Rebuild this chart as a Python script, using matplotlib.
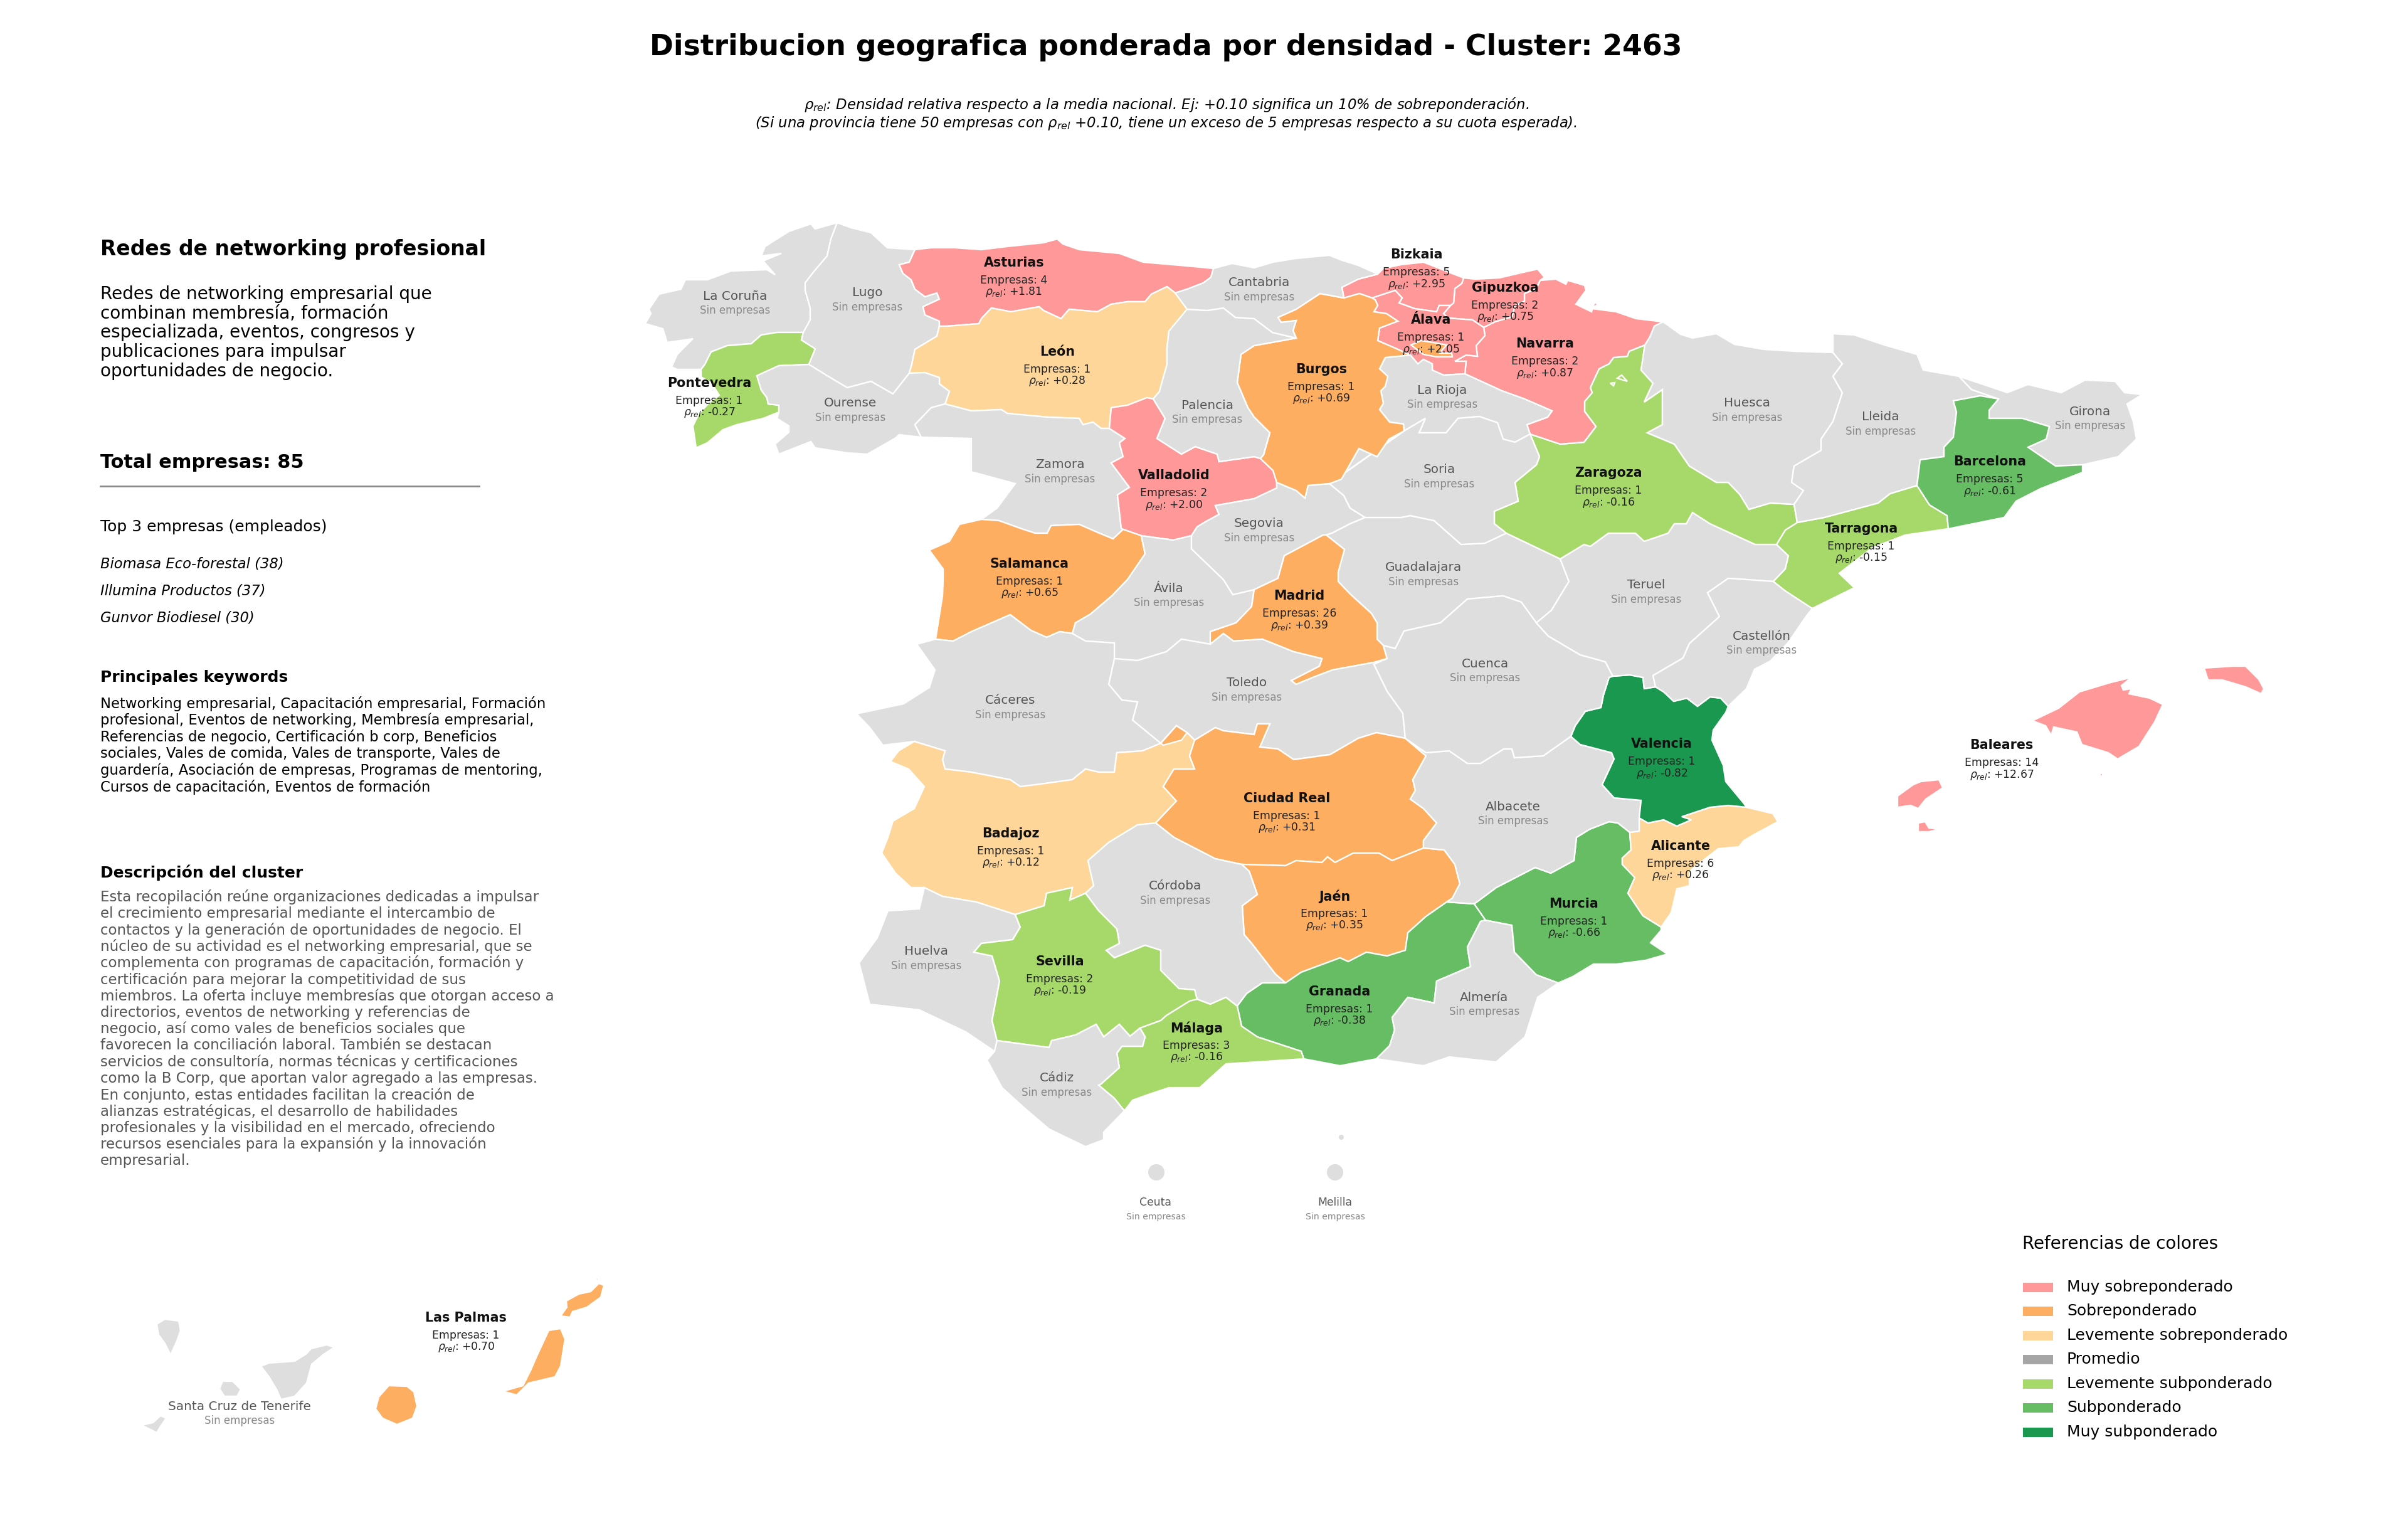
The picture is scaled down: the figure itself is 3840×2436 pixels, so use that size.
"""Mapa de provincias por densidad relativa, cluster 2463. Coordenadas en pixeles de la imagen."""
import matplotlib
matplotlib.use('Agg')
import matplotlib.pyplot as plt
from matplotlib.patches import Polygon, Circle, Rectangle

plt.rcParams['font.family'] = ['DejaVu Sans']

# ---- datos ----
ACTIVAS = ['Asturias', 'León', 'Pontevedra', 'Salamanca', 'Valladolid', 'Burgos', 'Madrid',
           'Zaragoza', 'Barcelona', 'Tarragona', 'Bizkaia', 'Gipuzkoa', 'Álava', 'Navarra',
           'Badajoz', 'Ciudad Real', 'Jaén', 'Sevilla', 'Málaga', 'Granada', 'Murcia',
           'Valencia', 'Alicante', 'Baleares', 'Las Palmas']
EMPRESAS = [4, 1, 1, 1, 2, 1, 26, 1, 5, 1, 5, 2, 1, 2, 1, 1, 1, 2, 3, 1, 1, 1, 6, 14, 1]
RHO = [1.81, 0.28, -0.27, 0.65, 2.00, 0.69, 0.39, -0.16, -0.61, -0.15, 2.95, 0.75, 2.05, 0.87,
       0.12, 0.31, 0.35, -0.19, -0.16, -0.38, -0.66, -0.82, 0.26, 12.67, 0.70]

LEYENDA = ['Muy sobreponderado', 'Sobreponderado', 'Levemente sobreponderado', 'Promedio',
           'Levemente subponderado', 'Subponderado', 'Muy subponderado']
COLORES = ['#ff9999', '#fdae61', '#fed69a', '#a6a6a6', '#a6d96a', '#66bd63', '#1a9850']
GRIS = '#dedede'

DESC_CORTA = ['Redes de networking empresarial que', 'combinan membresía, formación',
              'especializada, eventos, congresos y', 'publicaciones para impulsar',
              'oportunidades de negocio.']
TOP3 = ['Biomasa Eco-forestal (38)', 'Illumina Productos (37)', 'Gunvor Biodiesel (30)']
KEYWORDS = ['Networking empresarial, Capacitación empresarial, Formación',
            'profesional, Eventos de networking, Membresía empresarial,',
            'Referencias de negocio, Certificación b corp, Beneficios',
            'sociales, Vales de comida, Vales de transporte, Vales de',
            'guardería, Asociación de empresas, Programas de mentoring,',
            'Cursos de capacitación, Eventos de formación']
DESCRIPCION = ['Esta recopilación reúne organizaciones dedicadas a impulsar',
               'el crecimiento empresarial mediante el intercambio de',
               'contactos y la generación de oportunidades de negocio. El',
               'núcleo de su actividad es el networking empresarial, que se',
               'complementa con programas de capacitación, formación y',
               'certificación para mejorar la competitividad de sus',
               'miembros. La oferta incluye membresías que otorgan acceso a',
               'directorios, eventos de networking y referencias de',
               'negocio, así como vales de beneficios sociales que',
               'favorecen la conciliación laboral. También se destacan',
               'servicios de consultoría, normas técnicas y certificaciones',
               'como la B Corp, que aportan valor agregado a las empresas.',
               'En conjunto, estas entidades facilitan la creación de',
               'alianzas estratégicas, el desarrollo de habilidades',
               'profesionales y la visibilidad en el mercado, ofreciendo',
               'recursos esenciales para la expansión y la innovación',
               'empresarial.']

# posicion del nombre de cada provincia
LABEL_XY = {
    'Asturias': (1617, 419), 'León': (1686, 561), 'Pontevedra': (1131, 611), 'Salamanca': (1642, 899),
    'Valladolid': (1872, 758), 'La Coruña': (1172, 472), 'Lugo': (1383, 467), 'Ourense': (1356, 643),
    'Palencia': (1925, 646), 'Zamora': (1690, 741), 'Ávila': (1864, 938), 'Cantabria': (2008, 451),
    'Burgos': (2107, 589), 'La Rioja': (2300, 622), 'Soria': (2295, 749), 'Segovia': (2008, 835),
    'Guadalajara': (2270, 905), 'Madrid': (2072, 950), 'Zaragoza': (2565, 754), 'Huesca': (2786, 643),
    'Lleida': (2999, 665), 'Girona': (3333, 656), 'Barcelona': (3173, 736), 'Tarragona': (2968, 843),
    'Teruel': (2625, 933), 'Castellón': (2809, 1014), 'Cuenca': (2368, 1058), 'Bizkaia': (2259, 406),
    'Gipuzkoa': (2400, 459), 'Álava': (2282, 510), 'Navarra': (2464, 548), 'Toledo': (1988, 1089),
    'Cáceres': (1611, 1117), 'Badajoz': (1612, 1329), 'Ciudad Real': (2052, 1273), 'Córdoba': (1874, 1413),
    'Jaén': (2128, 1429), 'Albacete': (2413, 1286), 'Huelva': (1477, 1517), 'Sevilla': (1690, 1533),
    'Málaga': (1908, 1639), 'Cádiz': (1685, 1719), 'Granada': (2136, 1581), 'Almería': (2367, 1590),
    'Murcia': (2510, 1441), 'Valencia': (2650, 1186), 'Alicante': (2680, 1349), 'Baleares': (3192, 1188),
    'Las Palmas': (743, 2101), 'Santa Cruz de Tenerife': (382, 2242), 'Ceuta': (1843, 1917),
    'Melilla': (2129, 1917),
}

# ---- fronteras compartidas entre provincias ----
CORUNA_LUGO = [(1335,355),(1325,381),(1319,408),(1297,434),(1284,451),(1284,463),(1292,491),(1292,510),(1281,530)]
CORUNA_PONTE = [(1281,530),(1239,530),(1214,534),(1198,548),(1160,551),(1134,561),(1124,581),(1118,589)]
CORUNA_COAST = [(1118,589),(1080,589),(1071,585),(1080,565),(1105,540),(1064,546),(1057,524),(1029,516),(1038,500),
                (1035,493),(1051,469),(1086,461),(1093,446),(1128,446),(1166,432),(1223,430),(1236,438),(1217,416),
                (1246,404),(1214,408),(1220,393),(1258,369),(1293,357),(1300,365),(1335,355)]
PONTE_LUGO = [(1281,530),(1278,542),(1300,556),(1290,581)]
PONTE_OURENSE = [(1290,581),(1242,583),(1207,599),(1214,622),(1223,634),(1225,644),(1242,646),(1242,657)]
PONTE_COAST = [(1242,657),(1217,667),(1175,677),(1153,685),(1128,706),(1110,714),(1105,679),(1115,659),(1131,642),
               (1147,630),(1134,610),(1118,601),(1118,589)]
LUGO_OURENSE = [(1290,581),(1319,599),(1351,618),(1389,608),(1424,628),(1450,595)]
LUGO_LEON = [(1450,595),(1454,581),(1459,557),(1494,536),(1498,520)]
LUGO_ASTURIAS = [(1498,520),(1498,512),(1475,502),(1472,489),(1498,477),(1494,467),(1475,473),(1459,461),(1453,446),
                 (1440,436),(1434,422),(1450,418),(1459,398)]
LUGO_COAST = [(1459,398),(1415,395),(1389,371),(1357,363),(1335,355)]
ASTURIAS_COAST = [(1459,398),(1485,395),(1523,395),(1565,398),(1606,393),(1664,387),(1686,381),(1695,389),(1721,398),
                  (1785,404),(1823,418),(1893,424),(1935,428)]
ASTURIAS_CANTABRIA = [(1935,428),(1931,442),(1919,451),(1893,461),(1874,467)]
ASTURIAS_LEON = [(1874,467),(1861,457),(1836,469),(1826,481),(1798,481),(1772,485),(1750,497),(1705,493),(1692,508),
                 (1664,495),(1657,489),(1612,497),(1581,491),(1565,508),(1561,516),(1510,520),(1498,520)]
LEON_OURENSE = [(1450,595),(1475,594),(1498,602),(1498,612),(1514,624),(1507,644)]
LEON_ZAMORA = [(1507,644),(1549,655),(1597,653),(1606,659),(1670,665),(1721,667),(1727,677),(1743,673),(1756,683),(1769,683)]
LEON_VALLADOLID = [(1769,683),(1772,650),(1798,646),(1829,634),(1839,636)]
LEON_PALENCIA = [(1839,636),(1849,624),(1855,602),(1861,581),(1861,555),(1864,528),(1893,493)]
LEON_CANTABRIA = [(1893,493),(1874,467)]
OURENSE_ZAMORA = [(1507,644),(1485,650),(1459,677),(1469,697)]
OURENSE_EXT = [(1469,697),(1434,693),(1427,699),(1383,724),(1351,722),(1300,714),(1293,704),(1242,724),(1236,708),
               (1258,689),(1258,679),(1239,667),(1242,657)]
ZAMORA_EXT = [(1469,697),(1549,699),(1549,752),(1619,771),(1590,810),(1565,828)]
ZAMORA_SALAMANCA = [(1565,828),(1593,830),(1632,844),(1651,850),(1670,850),(1676,838),(1721,836),(1753,850),(1775,859),(1791,844)]
ZAMORA_VALLADOLID = [(1769,683),(1794,699),(1785,706),(1791,728),(1772,738),(1801,777),(1782,789),(1788,842),(1791,844)]
VALLADOLID_PALENCIA = [(1839,636),(1858,667),(1845,699),(1884,724),(1906,712),(1941,724),(1944,736),(2000,728),(2010,731)]
VALLADOLID_BURGOS = [(2010,731),(2030,750),(2036,769)]
VALLADOLID_SEGOVIA = [(2036,769),(2036,778),(2000,795),(1938,806),(1944,820),(1922,832),(1909,840),(1900,854)]
VALLADOLID_AVILA = [(1900,854),(1871,861),(1820,854)]
VALLADOLID_SALAMANCA = [(1820,854),(1791,844)]
SALAMANCA_AVILA = [(1820,854),(1826,883),(1798,924),(1773,950),(1739,979),(1715,993),(1710,1010)]
SALAMANCA_CACERES = [(1710,1010),(1690,1007),(1669,1016),(1644,1005),(1611,980),(1549,1007),(1520,1022),(1492,1019)]
SALAMANCA_EXT = [(1492,1019),(1503,950),(1504,924),(1504,907),(1482,877),(1514,863),(1530,836),(1565,828)]
SEGOVIA_AVILA = [(1900,854),(1900,875),(1925,899),(1951,924),(1966,948),(2000,940)]
MADRID_AVILA = [(1930,1027),(1930,1007),(1971,993),(1996,967),(2000,940)]
AVILA_TOLEDO = [(1930,1027),(1884,1019),(1860,1039),(1814,1053),(1777,1050)]
AVILA_CACERES = [(1777,1050),(1777,1025),(1731,1022),(1710,1010)]
BURGOS_SEGOVIA = [(2036,769),(2067,782),(2081,794),(2086,774),(2120,771)]
SEGOVIA_SORIA = [(2120,771),(2143,790),(2153,810),(2177,825)]
SEGOVIA_GUADALAJARA = [(2177,825),(2153,835),(2124,850),(2115,853)]
MADRID_SEGOVIA = [(2000,940),(2038,922),(2048,886),(2110,853),(2115,853)]
MADRID_GUADALAJARA = [(2115,853),(2144,876),(2134,912),(2134,927),(2153,947),(2187,978),(2196,993),(2196,1019),(2206,1029)]
MADRID_CUENCA = [(2206,1029),(2212,1050)]
MADRID_TOLEDO = [(2212,1050),(2191,1056),(2125,1068),(2096,1079),(2067,1091),(2059,1085),(2104,1062),(2108,1050),
                 (2063,1039),(2013,1019),(1967,1022),(1951,1010),(1930,1027)]
GUADALAJARA_SORIA = [(2177,825),(2234,825),(2249,822),(2287,830),(2330,868),(2368,866),(2402,850)]
GUADALAJARA_ZARAGOZA = [(2402,850),(2488,891)]
GUADALAJARA_TERUEL = [(2488,891),(2502,927),(2474,973),(2450,993)]
GUADALAJARA_CUENCA = [(2206,1029),(2225,1034),(2239,1006),(2297,993),(2340,955),(2397,950),(2426,960),(2450,993)]
TOLEDO_CUENCA = [(2212,1050),(2191,1059),(2212,1102),(2237,1137),(2241,1177)]
TOLEDO_CACERES = [(1777,1050),(1768,1091),(1789,1116),(1814,1119),(1806,1148),(1851,1185)]
TOLEDO_BADAJOZ = [(1851,1185),(1876,1157),(1893,1168),(1905,1180)]
CR_TOLEDO = [(1905,1180),(1938,1160),(1951,1165),(2000,1171),(2005,1154),(2025,1154),(2009,1191),(2038,1194),(2063,1211),
             (2121,1203),(2166,1177),(2195,1168),(2241,1177)]
CACERES_BADAJOZ = [(1851,1185),(1822,1197),(1781,1200),(1777,1231),(1752,1231),(1731,1226),(1710,1243),(1652,1251),
                   (1627,1254),(1611,1243),(1549,1231),(1507,1226),(1503,1211),(1507,1197),(1458,1182)]
CACERES_EXT = [(1458,1182),(1408,1188),(1387,1160),(1366,1138),(1441,1122),(1482,1096),(1491,1068),(1462,1027),(1492,1019)]
BADAJOZ_EXT = [(1458,1182),(1433,1197),(1420,1214),(1449,1226),(1474,1254),(1458,1289),(1424,1309),(1416,1335),(1406,1360),
               (1428,1392),(1453,1415),(1474,1415)]
BADAJOZ_HUELVA = [(1474,1415),(1503,1429),(1557,1438),(1619,1458)]
BADAJOZ_SEVILLA = [(1619,1458),(1665,1444),(1669,1424),(1710,1415),(1706,1435),(1731,1424)]
BADAJOZ_CORDOBA = [(1731,1424),(1744,1412),(1735,1372),(1768,1343),(1814,1315),(1843,1312)]
BADAJOZ_CR = [(1905,1180),(1897,1205),(1905,1226),(1872,1226),(1855,1254),(1876,1277),(1843,1312)]
CR_ALBACETE = [(2241,1177),(2274,1205),(2253,1243),(2257,1260),(2249,1274),(2270,1289),(2291,1312),(2270,1340),(2270,1352)]
CR_JAEN = [(2270,1352),(2220,1372),(2199,1360),(2158,1360),(2129,1375),(2117,1366),(2108,1375),(2067,1372),(2050,1380),(1980,1378)]
CR_CORDOBA = [(1980,1378),(1938,1369),(1872,1335),(1843,1312)]
JAEN_ALBACETE = [(2270,1352),(2303,1355),(2320,1378),(2328,1409),(2316,1432),(2307,1438)]
JAEN_GRANADA = [(2050,1567),(2075,1550),(2137,1527),(2150,1533),(2179,1518),(2212,1524),(2241,1515),(2245,1487),(2274,1461),(2307,1438)]
JAEN_CORDOBA = [(1980,1378),(1992,1389),(2005,1426),(1981,1444),(1984,1490),(1996,1504),(2034,1553),(2050,1567)]
CORDOBA_GRANADA = [(1973,1604),(1988,1584),(2013,1567),(2050,1567)]
MALAGA_CORDOBA = [(1973,1604),(1955,1590),(1930,1601),(1909,1593)]
SEVILLA_CORDOBA = [(1731,1424),(1752,1452),(1781,1481),(1785,1504),(1764,1515),(1777,1527),(1826,1507),(1851,1515),
                   (1851,1547),(1880,1576),(1905,1578),(1909,1593)]
SEVILLA_MALAGA = [(1909,1593),(1897,1596),(1860,1619),(1851,1627),(1818,1639)]
SEVILLA_CADIZ = [(1818,1639),(1802,1652),(1785,1633),(1760,1653),(1748,1633),(1715,1650),(1677,1659),(1673,1670),(1590,1659)]
HUELVA_SEVILLA = [(1590,1659),(1582,1627),(1594,1564),(1582,1524),(1553,1518),(1565,1504),(1615,1498),(1627,1478),(1619,1458)]
HUELVA_EXT = [(1586,1676),(1540,1645),(1466,1610),(1387,1601),(1370,1535),(1399,1495),(1416,1452),(1466,1449),(1474,1415)]
MALAGA_CADIZ = [(1793,1771),(1777,1751),(1752,1730),(1756,1728),(1785,1702),(1781,1679),(1789,1668),(1822,1668),(1826,1653),(1818,1639)]
MALAGA_COAST = [(1793,1771),(1806,1754),(1831,1745),(1864,1734),(1913,1734),(1955,1696),(2005,1693),(2079,1688)]
MALAGA_GRANADA = [(2079,1688),(2075,1676),(2005,1653),(1980,1636),(1973,1604)]
CADIZ_COAST = [(1793,1771),(1760,1805),(1760,1817),(1731,1828),(1673,1800),(1632,1765),(1598,1734),(1574,1690),(1586,1676)]
GRANADA_ALBACETE = [(2307,1438),(2351,1441)]
GRANADA_MURCIA = [(2351,1441),(2369,1467)]
GRANADA_ALMERIA = [(2195,1688),(2216,1667),(2224,1642),(2220,1622),(2245,1590),(2287,1599),(2291,1564),(2345,1541),(2340,1510),(2361,1469),(2369,1467)]
GRANADA_COAST = [(2195,1688),(2137,1699),(2079,1688)]
MURCIA_ALMERIA = [(2369,1467),(2411,1475),(2415,1518),(2450,1554),(2485,1567)]
ALMERIA_COAST = [(2485,1567),(2452,1590),(2432,1653),(2386,1693),(2311,1685),(2270,1699),(2195,1688)]
MURCIA_ALBACETE = [(2351,1441),(2386,1415),(2448,1383),(2473,1392),(2510,1372),(2514,1335),(2535,1322),(2566,1310),(2580,1312),(2599,1327)]
MURCIA_ALICANTE = [(2599,1327),(2601,1355),(2587,1368),(2587,1378),(2607,1399),(2596,1424),(2620,1460),(2649,1478)]
MURCIA_COAST = [(2649,1478),(2649,1483),(2632,1503),(2659,1521),(2624,1531),(2578,1537),(2541,1537),(2508,1557),(2485,1567)]
ALICANTE_ALBACETE = [(2614,1304),(2614,1325),(2599,1327)]
ALICANTE_COAST = [(2785,1287),(2827,1297),(2835,1310),(2798,1330),(2781,1340),(2773,1350),(2740,1353),(2694,1389),(2694,1412),(2674,1417),(2665,1455),(2649,1478)]
VALENCIA_ALICANTE = [(2785,1287),(2756,1284),(2727,1287),(2682,1302),(2697,1307),(2674,1317),(2653,1307),(2628,1312),(2614,1304)]
VALENCIA_ALBACETE = [(2614,1304),(2617,1276),(2574,1272),(2555,1251),(2574,1210),(2570,1200),(2520,1187),(2505,1174)]
VALENCIA_CUENCA = [(2505,1174),(2512,1157),(2528,1134),(2553,1128),(2557,1108),(2566,1080),(2572,1078)]
VALENCIA_COAST = [(2756,1126),(2752,1136),(2732,1164),(2730,1180),(2748,1220),(2752,1246),(2781,1281),(2785,1287)]
CUENCA_ALBACETE = [(2241,1177),(2274,1200),(2311,1197),(2340,1217),(2361,1217),(2398,1194),(2411,1194),(2415,1208),(2461,1205),(2505,1174)]
TERUEL_CUENCA = [(2450,993),(2469,1014),(2520,1044),(2560,1055),(2572,1078)]
TERUEL_VALENCIA = [(2572,1078),(2599,1076),(2620,1080),(2622,1098),(2640,1095)]
CASTELLON_VALENCIA = [(2640,1095),(2653,1103),(2669,1118),(2690,1113),(2707,1126),(2727,1111),(2744,1113),(2756,1126)]
TERUEL_CASTELLON = [(2828,927),(2756,922),(2723,945),(2742,983),(2694,1026),(2684,1049),(2636,1077),(2640,1095)]
CASTELLON_COAST = [(2890,970),(2880,983),(2852,1024),(2823,1054),(2798,1067),(2785,1098),(2756,1126)]
TARRAGONA_CASTELLON = [(2890,970),(2847,942),(2828,927)]
TERUEL_TARRAGONA = [(2833,868),(2852,886),(2847,907),(2828,927)]
ZARAGOZA_TERUEL = [(2488,891),(2526,868),(2536,871),(2565,850),(2608,850),(2622,863),(2660,850),(2670,835),(2689,835),(2699,817),(2727,835),(2799,868),(2833,868)]
ZARAGOZA_TARRAGONA = [(2833,868),(2847,845),(2866,833)]
ZARAGOZA_LLEIDA = [(2866,833),(2861,804)]
ZARAGOZA_SORIA = [(2440,692),(2455,728),(2450,741),(2416,769),(2421,799),(2383,815),(2383,835),(2402,850)]
HUESCA_ZARAGOZA = [(2623,550),(2622,557),(2617,590),(2636,611),(2622,641),(2651,621),(2651,677),(2627,690),(2670,708),(2694,743),(2737,769),(2756,769),(2775,789),(2789,812),(2823,802),(2861,804)]
HUESCA_NORTH = [(2652,513),(2680,533),(2699,539),(2737,532),(2766,549),(2813,557),(2861,560),(2923,562)]
HUESCA_LLEIDA = [(2923,562),(2938,580),(2923,600),(2938,626),(2923,672),(2904,700),(2904,718),(2861,743),(2857,769),(2876,782),(2861,804)]
LLEIDA_TARRAGONA = [(2866,833),(2909,825),(2995,802),(3014,787),(3057,774)]
LLEIDA_BARCELONA = [(3057,774),(3062,733),(3100,728),(3100,713),(3115,697),(3120,657),(3115,639),(3158,631),(3187,636)]
LLEIDA_GIRONA = [(3124,600),(3144,621),(3187,636)]
LLEIDA_NORTH = [(2923,562),(2923,532),(2957,534),(3005,550),(3057,565),(3067,590),(3124,600)]
GIRONA_NORTH = [(3124,600),(3163,613),(3201,626),(3234,613),(3287,626),(3325,606),(3373,608),(3388,626),(3416,629),(3392,644),(3402,672),(3407,700),(3378,728),(3321,741)]
GIRONA_BARCELONA = [(3321,741),(3278,743),(3234,713),(3263,700),(3268,680),(3225,667),(3172,667),(3172,654),(3187,636)]
BARCELONA_COAST = [(3321,741),(3321,753),(3254,779),(3215,799),(3196,825),(3107,843)]
BARCELONA_TARRAGONA = [(3057,774),(3077,805),(3105,822),(3107,843)]
TARRAGONA_COAST = [(3107,843),(3038,853),(2986,873),(2933,914),(2957,937),(2890,970)]
NAVARRA_NORTH = [(2456,447),(2481,445),(2497,453),(2500,447),(2527,455),(2529,463),(2513,485),(2538,497),(2543,482),(2548,485),(2539,492),(2577,497),(2609,508),(2652,513)]
NAVARRA_HUESCA = [(2652,513),(2638,520),(2631,537),(2623,550)]
NAVARRA_ZARAGOZA = [(2623,550),(2598,560),(2595,568),(2573,570),(2566,580),(2550,588),(2536,618),(2539,626),(2527,640),(2527,656),(2545,680),(2526,705),(2488,708),(2440,692)]
NAVARRA_RIOJA = [(2336,596),(2395,623),(2431,636),(2475,655),(2468,665),(2435,677),(2440,692)]
GIPUZKOA_COAST = [(2334,443),(2352,445),(2391,443),(2434,433),(2452,429),(2463,442),(2456,447)]
GIPUZKOA_NAVARRA = [(2456,447),(2450,460),(2431,468),(2431,480),(2416,487),(2411,505),(2384,513),(2366,522)]
GIPUZKOA_ALAVA = [(2366,522),(2348,510),(2309,507),(2302,500),(2313,487)]
BIZKAIA_GIPUZKOA = [(2313,487),(2318,483),(2320,460),(2331,452),(2334,443)]
BIZKAIA_COAST = [(2197,437),(2206,428),(2234,422),(2270,418),(2288,425),(2313,435),(2334,443)]
ALAVA_BIZKAIA = [(2188,475),(2225,463),(2236,475),(2231,483),(2256,492),(2291,497),(2295,487),(2313,487)]
BIZKAIA_BURGOS = [(2143,475),(2168,468),(2188,475)]
CANTABRIA_BIZKAIA = [(2197,437),(2166,445),(2140,458),(2143,475)]
ALAVA_NAVARRA = [(2366,522),(2368,535),(2354,551),(2356,568),(2338,566),(2320,576),(2338,576),(2336,596)]
ALAVA_RIOJA = [(2336,596),(2302,598),(2284,590),(2284,580),(2270,573),(2261,580),(2249,566)]
BURGOS_ALAVA = [(2249,566),(2227,556),(2197,543),(2200,523),(2229,512),(2211,500),(2191,497),(2197,487),(2193,478),(2188,475)]
BURGOS_RIOJA = [(2249,566),(2209,570),(2200,588),(2213,600),(2209,616),(2202,623),(2206,643),(2200,653),(2216,673),(2238,676),(2239,687)]
RIOJA_SORIA = [(2239,687),(2273,667),(2263,690),(2306,690),(2325,667),(2359,664),(2388,674),(2397,700),(2416,705),(2440,692)]
BURGOS_SORIA = [(2239,687),(2215,700),(2196,728),(2167,715),(2150,745),(2139,764),(2120,771)]
PALENCIA_BURGOS = [(2067,539),(2000,551),(1979,565),(1973,610),(1990,650),(2000,665),(2025,690),(2015,725),(2010,731)]
CANTABRIA_BURGOS = [(2143,475),(2105,468),(2067,493),(2038,506),(2043,514),(2067,511),(2062,527),(2067,539)]
CANTABRIA_PALENCIA = [(1893,493),(1925,495),(1951,491),(1970,506),(2000,508),(2029,530),(2067,539)]
CANTABRIA_COAST = [(1935,428),(1965,420),(2000,427),(2030,418),(2067,412),(2120,407),(2140,415),(2166,423),(2197,437)]


def rev(chain):
    return chain[::-1]


# cada provincia es una lista de anillos
OUTLINES = {
    'La Coruña': [CORUNA_LUGO + CORUNA_PONTE + CORUNA_COAST],
    'Pontevedra': [PONTE_LUGO + PONTE_OURENSE + PONTE_COAST + rev(CORUNA_PONTE)],
    'Lugo': [CORUNA_LUGO + PONTE_LUGO + LUGO_OURENSE + LUGO_LEON + LUGO_ASTURIAS + LUGO_COAST],
    'Asturias': [ASTURIAS_COAST + ASTURIAS_CANTABRIA + ASTURIAS_LEON + LUGO_ASTURIAS],
    'León': [rev(LUGO_LEON) + LEON_OURENSE + LEON_ZAMORA + LEON_VALLADOLID + LEON_PALENCIA + LEON_CANTABRIA + ASTURIAS_LEON],
    'Ourense': [LUGO_OURENSE + LEON_OURENSE + OURENSE_ZAMORA + OURENSE_EXT + rev(PONTE_OURENSE)],
    'Zamora': [LEON_ZAMORA + ZAMORA_VALLADOLID + rev(ZAMORA_SALAMANCA) + rev(ZAMORA_EXT) + rev(OURENSE_ZAMORA)],
    'Valladolid': [LEON_VALLADOLID + VALLADOLID_PALENCIA + VALLADOLID_BURGOS + VALLADOLID_SEGOVIA + VALLADOLID_AVILA + VALLADOLID_SALAMANCA + rev(ZAMORA_VALLADOLID)],
    'Salamanca': [ZAMORA_SALAMANCA + rev(VALLADOLID_SALAMANCA) + SALAMANCA_AVILA + SALAMANCA_CACERES + SALAMANCA_EXT],
    'Ávila': [rev(VALLADOLID_AVILA) + SEGOVIA_AVILA + rev(MADRID_AVILA) + AVILA_TOLEDO + AVILA_CACERES + rev(SALAMANCA_AVILA)],
    'Segovia': [rev(VALLADOLID_SEGOVIA) + BURGOS_SEGOVIA + SEGOVIA_SORIA + SEGOVIA_GUADALAJARA + rev(MADRID_SEGOVIA) + rev(SEGOVIA_AVILA)],
    'Guadalajara': [rev(SEGOVIA_GUADALAJARA) + GUADALAJARA_SORIA + GUADALAJARA_ZARAGOZA + GUADALAJARA_TERUEL + rev(GUADALAJARA_CUENCA) + rev(MADRID_GUADALAJARA)],
    'Madrid': [MADRID_SEGOVIA + MADRID_GUADALAJARA + MADRID_CUENCA + MADRID_TOLEDO + MADRID_AVILA],
    'Toledo': [rev(AVILA_TOLEDO) + rev(MADRID_TOLEDO) + TOLEDO_CUENCA + rev(CR_TOLEDO) + rev(TOLEDO_BADAJOZ) + rev(TOLEDO_CACERES)],
    'Cáceres': [rev(SALAMANCA_CACERES) + rev(AVILA_CACERES) + TOLEDO_CACERES + CACERES_BADAJOZ + CACERES_EXT],
    'Badajoz': [rev(CACERES_BADAJOZ) + TOLEDO_BADAJOZ + BADAJOZ_CR + rev(BADAJOZ_CORDOBA) + rev(BADAJOZ_SEVILLA) + rev(BADAJOZ_HUELVA) + rev(BADAJOZ_EXT)],
    'Ciudad Real': [rev(BADAJOZ_CR) + CR_TOLEDO + CR_ALBACETE + CR_JAEN + CR_CORDOBA,
                    [(1851,1185),(1876,1157),(1893,1168),(1884,1180),(1855,1188)]],
    'Jaén': [rev(CR_JAEN) + JAEN_ALBACETE + rev(JAEN_GRANADA) + rev(JAEN_CORDOBA)],
    'Córdoba': [rev(CR_CORDOBA) + JAEN_CORDOBA + rev(CORDOBA_GRANADA) + MALAGA_CORDOBA + rev(SEVILLA_CORDOBA) + BADAJOZ_CORDOBA],
    'Granada': [CORDOBA_GRANADA + JAEN_GRANADA + GRANADA_ALBACETE + GRANADA_MURCIA + rev(GRANADA_ALMERIA) + GRANADA_COAST + MALAGA_GRANADA],
    'Almería': [GRANADA_ALMERIA + MURCIA_ALMERIA + ALMERIA_COAST],
    'Murcia': [rev(GRANADA_MURCIA) + MURCIA_ALBACETE + MURCIA_ALICANTE + MURCIA_COAST + rev(MURCIA_ALMERIA)],
    'Alicante': [VALENCIA_ALICANTE + ALICANTE_ALBACETE + MURCIA_ALICANTE + rev(ALICANTE_COAST)],
    'Albacete': [CR_ALBACETE + JAEN_ALBACETE + GRANADA_ALBACETE + MURCIA_ALBACETE + rev(ALICANTE_ALBACETE) + VALENCIA_ALBACETE + rev(CUENCA_ALBACETE)],
    'Valencia': [VALENCIA_COAST + VALENCIA_ALICANTE + VALENCIA_ALBACETE + VALENCIA_CUENCA + TERUEL_VALENCIA + CASTELLON_VALENCIA,
                 [(2520,1044),(2545,1047),(2549,1034),(2558,1049),(2587,1060),(2574,1068),(2537,1070)]],
    'Cuenca': [GUADALAJARA_CUENCA + TERUEL_CUENCA + rev(VALENCIA_CUENCA) + rev(CUENCA_ALBACETE) + rev(TOLEDO_CUENCA) + rev(MADRID_CUENCA)],
    'Teruel': [ZARAGOZA_TERUEL + TERUEL_TARRAGONA + TERUEL_CASTELLON + rev(TERUEL_VALENCIA) + rev(TERUEL_CUENCA) + rev(GUADALAJARA_TERUEL)],
    'Castellón': [TERUEL_CASTELLON + CASTELLON_VALENCIA + rev(CASTELLON_COAST) + TARRAGONA_CASTELLON],
    'Tarragona': [rev(TERUEL_TARRAGONA) + ZARAGOZA_TARRAGONA + LLEIDA_TARRAGONA + BARCELONA_TARRAGONA + TARRAGONA_COAST + TARRAGONA_CASTELLON],
    'Zaragoza': [NAVARRA_ZARAGOZA + ZARAGOZA_SORIA + GUADALAJARA_ZARAGOZA + ZARAGOZA_TERUEL + ZARAGOZA_TARRAGONA + ZARAGOZA_LLEIDA + rev(HUESCA_ZARAGOZA),
                 [(2579,603),(2586,598),(2595,608)], [(2568,611),(2575,610),(2573,615)]],
    'Huesca': [rev(NAVARRA_HUESCA) + HUESCA_NORTH + HUESCA_LLEIDA + rev(HUESCA_ZARAGOZA)],
    'Lleida': [HUESCA_LLEIDA + rev(ZARAGOZA_LLEIDA) + LLEIDA_TARRAGONA + LLEIDA_BARCELONA + rev(LLEIDA_GIRONA) + rev(LLEIDA_NORTH)],
    'Girona': [GIRONA_NORTH + GIRONA_BARCELONA + rev(LLEIDA_GIRONA)],
    'Barcelona': [LLEIDA_BARCELONA + rev(GIRONA_BARCELONA) + BARCELONA_COAST + rev(BARCELONA_TARRAGONA)],
    'Navarra': [GIPUZKOA_NAVARRA + ALAVA_NAVARRA + NAVARRA_RIOJA + rev(NAVARRA_ZARAGOZA) + NAVARRA_HUESCA[::-1] + rev(NAVARRA_NORTH)],
    'Gipuzkoa': [GIPUZKOA_COAST + GIPUZKOA_NAVARRA + GIPUZKOA_ALAVA + BIZKAIA_GIPUZKOA],
    'Bizkaia': [BIZKAIA_COAST + rev(BIZKAIA_GIPUZKOA) + rev(ALAVA_BIZKAIA) + rev(BIZKAIA_BURGOS) + rev(CANTABRIA_BIZKAIA)],
    'Álava': [ALAVA_BIZKAIA + rev(GIPUZKOA_ALAVA) + ALAVA_NAVARRA + ALAVA_RIOJA + BURGOS_ALAVA,
              [(2170,523),(2182,512),(2200,518),(2184,533)]],
    'La Rioja': [BURGOS_RIOJA + RIOJA_SORIA + rev(NAVARRA_RIOJA) + ALAVA_RIOJA],
    'Soria': [rev(BURGOS_SORIA) + SEGOVIA_SORIA + GUADALAJARA_SORIA + rev(ZARAGOZA_SORIA) + rev(RIOJA_SORIA)],
    'Burgos': [BIZKAIA_BURGOS + rev(BURGOS_ALAVA) + BURGOS_RIOJA + BURGOS_SORIA + rev(BURGOS_SEGOVIA) + rev(VALLADOLID_BURGOS) + rev(PALENCIA_BURGOS) + rev(CANTABRIA_BURGOS)],
    'Palencia': [CANTABRIA_PALENCIA + PALENCIA_BURGOS + rev(VALLADOLID_PALENCIA) + LEON_PALENCIA],
    'Cantabria': [CANTABRIA_COAST + CANTABRIA_BIZKAIA + CANTABRIA_BURGOS + rev(CANTABRIA_PALENCIA) + LEON_CANTABRIA + rev(ASTURIAS_CANTABRIA)],
    'Huelva': [BADAJOZ_HUELVA + rev(HUELVA_SEVILLA) + HUELVA_EXT],
    'Sevilla': [BADAJOZ_SEVILLA + SEVILLA_CORDOBA + SEVILLA_MALAGA + SEVILLA_CADIZ + HUELVA_SEVILLA],
    'Málaga': [rev(SEVILLA_MALAGA) + rev(MALAGA_CORDOBA) + rev(MALAGA_GRANADA) + rev(MALAGA_COAST) + MALAGA_CADIZ],
    'Cádiz': [rev(SEVILLA_CADIZ) + rev(MALAGA_CADIZ) + CADIZ_COAST],
    'Baleares': [
        [(3241,1149),(3283,1129),(3316,1103),(3366,1088),(3399,1080),(3383,1093),(3386,1100),(3399,1098),(3395,1106),(3428,1113),
         (3449,1123),(3436,1151),(3411,1190),(3377,1210),(3362,1200),(3320,1187),(3312,1167),(3275,1159),(3271,1172),(3262,1157)],
        [(3515,1065),(3561,1062),(3581,1062),(3602,1083),(3610,1098),(3606,1106),(3581,1095),(3544,1084),(3521,1084)],
        [(3026,1269),(3051,1251),(3063,1246),(3092,1243),(3098,1256),(3071,1274),(3059,1289),(3047,1284),(3026,1287)],
        [(3059,1312),(3070,1310),(3076,1320),(3092,1322),(3076,1326),(3059,1326)],
        [(3349,1233),(3353,1233),(3353,1237),(3349,1237)]],
    'Las Palmas': [
        [(620,2209),(649,2210),(660,2219),(665,2242),(658,2261),(633,2271),(610,2261),(599,2246),(604,2227)],
        [(875,2121),(894,2118),(901,2135),(894,2178),(885,2195),(843,2205),(824,2224),(802,2218),(834,2209),(846,2185),(856,2162)],
        [(894,2098),(904,2084),(903,2074),(923,2063),(942,2059),(955,2046),(963,2049),(958,2068),(936,2084),(913,2091),(909,2100)],
        [(950,2040),(953,2035),(954,2043)]],
    'Santa Cruz de Tenerife': [
        [(250,2111),(263,2103),(285,2106),(288,2121),(282,2138),(272,2160),(263,2142),(253,2128)],
        [(416,2178),(429,2173),(470,2170),(489,2158),(496,2150),(521,2144),(533,2148),(515,2160),(497,2175),(489,2205),(470,2226),(448,2231),(441,2215),(429,2195)],
        [(350,2214),(355,2202),(371,2202),(384,2215),(378,2226),(358,2226)],
        [(226,2272),(244,2268),(256,2257),(265,2261),(256,2274),(250,2284)]],
}
# enclave de Burgos dentro de Alava
TREVINO = [(2250,550),(2266,543),(2291,547),(2307,550),(2295,563),(2315,563),(2316,569),(2291,569),(2270,565)]
CIUDADES = {'Ceuta': (1844, 1869), 'Melilla': (2129, 1869)}
ALBORAN = (2139, 1813)


def color_rho(r):
    if r >= 0.75: return COLORES[0]
    if r >= 0.30: return COLORES[1]
    if r > 0.05: return COLORES[2]
    if r > -0.30: return COLORES[4]
    if r > -0.75: return COLORES[5]
    return COLORES[6]


fig = plt.figure(figsize=(16, 10.15), dpi=240)
ax = fig.add_axes([0, 0, 1, 1])
ax.set_xlim(0, 3840)
ax.set_ylim(2436, 0)
ax.axis('off')

color_de = {n: color_rho(r) for n, r in zip(ACTIVAS, RHO)}
for nombre, anillos in OUTLINES.items():
    c = color_de.get(nombre, GRIS)
    for pts in anillos:
        ax.add_patch(Polygon(pts, closed=True, facecolor=c, edgecolor='white', linewidth=0.7, zorder=2))
ax.add_patch(Polygon(TREVINO, closed=True, facecolor=color_de['Burgos'], edgecolor='white', linewidth=0.7, zorder=3))
for nombre, xy in CIUDADES.items():
    ax.add_patch(Circle(xy, 13, facecolor=GRIS, edgecolor='none', zorder=2))
ax.add_patch(Circle(ALBORAN, 4, facecolor=GRIS, edgecolor='none', zorder=2))

# etiquetas de provincias
for nombre, (x, y) in LABEL_XY.items():
    if nombre in ACTIVAS:
        i = ACTIVAS.index(nombre)
        ax.text(x, y, nombre, ha='center', va='center', fontsize=6.2, fontweight='bold', color='#111111', zorder=5)
        ax.text(x, y + 28, f'Empresas: {EMPRESAS[i]}', ha='center', va='center', fontsize=5.2, color='#222222', zorder=5)
        ax.text(x, y + 47, rf'$\rho_{{rel}}$: {RHO[i]:+.2f}', ha='center', va='center', fontsize=5.2, color='#222222', zorder=5)
    elif nombre in CIUDADES:
        ax.text(x, y, nombre, ha='center', va='center', fontsize=5.2, color='#555555', zorder=5)
        ax.text(x, y + 23, 'Sin empresas', ha='center', va='center', fontsize=4.2, color='#888888', zorder=5)
    else:
        ax.text(x, y, nombre, ha='center', va='center', fontsize=6, color='#555555', zorder=5)
        ax.text(x, y + 23, 'Sin empresas', ha='center', va='center', fontsize=5, color='#888888', zorder=5)

# titulo
ax.text(1859, 76, 'Distribucion geografica ponderada por densidad - Cluster: 2463', ha='center', va='center',
        fontsize=13.7, fontweight='bold', color='black')
ax.text(1860, 167, r'$\rho_{rel}$: Densidad relativa respecto a la media nacional. Ej: +0.10 significa un 10% de sobreponderación.',
        ha='center', va='center', fontsize=6.83, fontstyle='italic', color='black')
ax.text(1860, 196, r'(Si una provincia tiene 50 empresas con $\rho_{rel}$ +0.10, tiene un exceso de 5 empresas respecto a su cuota esperada).',
        ha='center', va='center', fontsize=6.83, fontstyle='italic', color='black')

# columna izquierda
LEFT = 160
ax.text(LEFT, 398, 'Redes de networking profesional', ha='left', va='center', fontsize=9.9, fontweight='bold')
for k, linea in enumerate(DESC_CORTA):
    ax.text(LEFT, 469 + k * 30.7, linea, ha='left', va='center', fontsize=8.35)
ax.text(LEFT, 737, 'Total empresas: 85', ha='left', va='center', fontsize=9.1, fontweight='bold')
ax.plot([LEFT, 764], [775, 775], color='#888888', linewidth=0.8)
ax.text(LEFT, 840, 'Top 3 empresas (empleados)', ha='left', va='center', fontsize=7.5)
for k, linea in enumerate(TOP3):
    ax.text(LEFT, 899 + k * 43, linea, ha='left', va='center', fontsize=6.8, fontstyle='italic')
ax.text(LEFT, 1080, 'Principales keywords', ha='left', va='center', fontsize=7.5, fontweight='bold')
for k, linea in enumerate(KEYWORDS):
    ax.text(LEFT, 1122 + k * 26.6, linea, ha='left', va='center', fontsize=6.83)
ax.text(LEFT, 1391, 'Descripción del cluster', ha='left', va='center', fontsize=7.5, fontweight='bold')
for k, linea in enumerate(DESCRIPCION):
    ax.text(LEFT, 1430 + k * 26.3, linea, ha='left', va='center', fontsize=6.85, color='#555555')

# leyenda
ax.text(3225, 1983, 'Referencias de colores', ha='left', va='center', fontsize=8.3)
for k, (etiqueta, c) in enumerate(zip(LEYENDA, COLORES)):
    y = 2052 + k * 38.5
    ax.add_patch(Rectangle((3226, y - 7.5), 48, 15, facecolor=c, edgecolor='none'))
    ax.text(3296, y, etiqueta, ha='left', va='center', fontsize=7.5)

fig.savefig('out.png', dpi=240)
plt.close(fig)
